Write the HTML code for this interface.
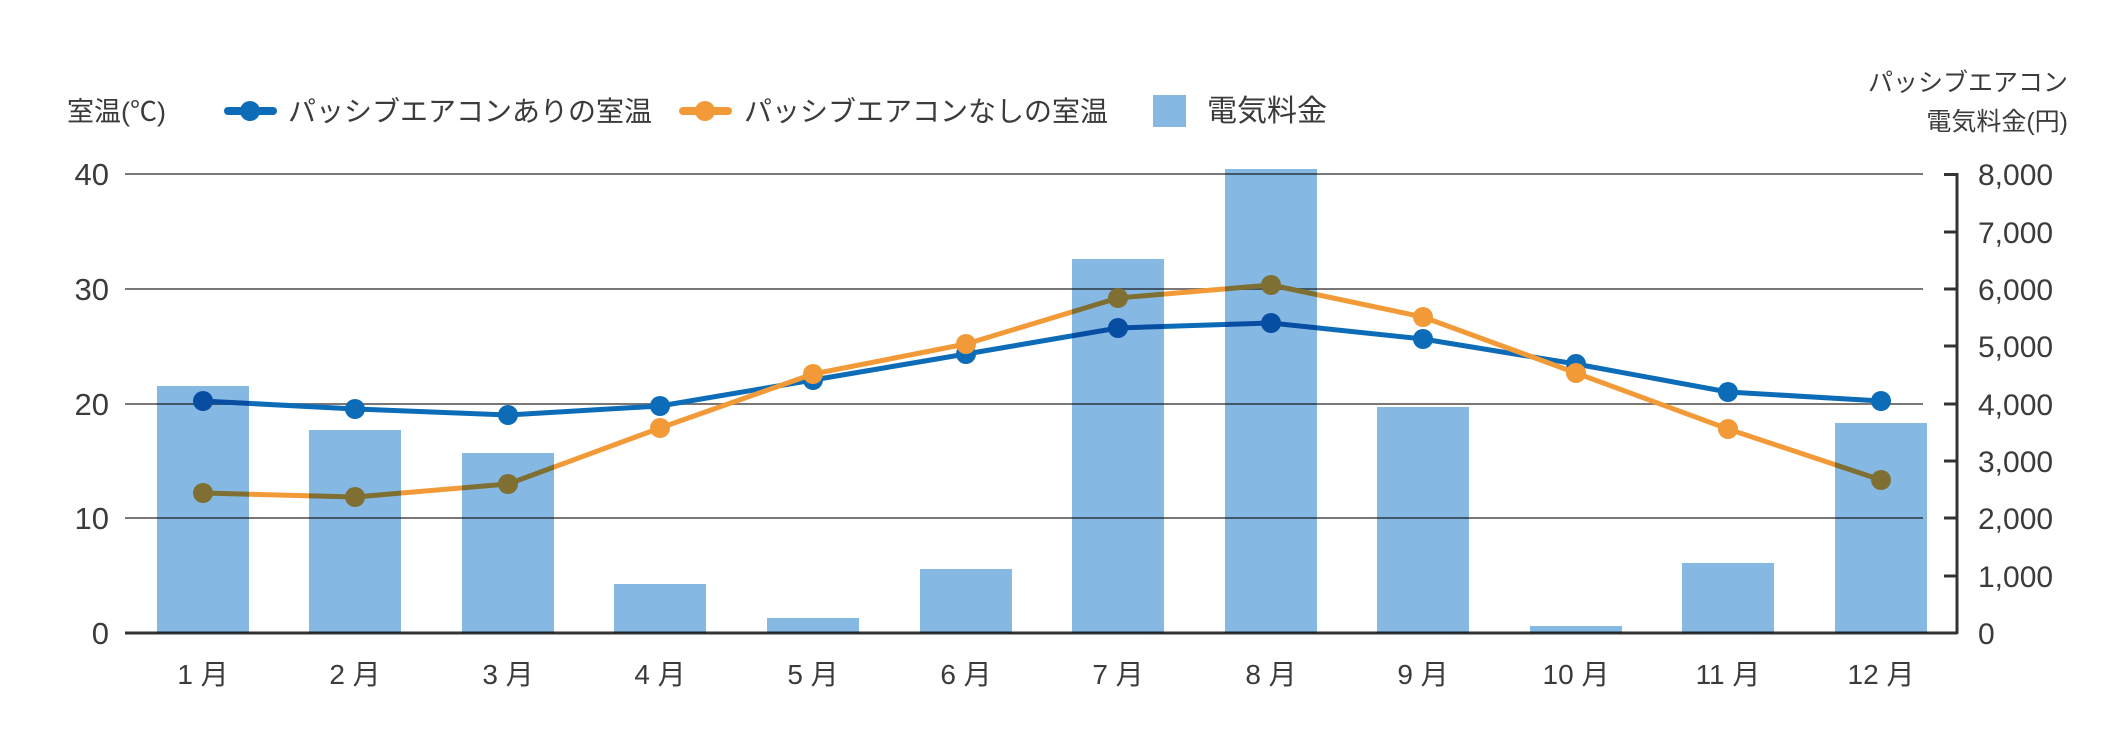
<!DOCTYPE html>
<html><head><meta charset="utf-8"><style>
html,body{margin:0;padding:0;background:#fff;}
svg{display:block;}
text{font-family:"Liberation Sans","Noto Sans CJK JP",sans-serif;fill:#3d3a3a;}
</style></head><body>
<svg width="2125" height="751" viewBox="0 0 2125 751" xmlns="http://www.w3.org/2000/svg">
<text x="67" y="121" font-size="27">室温(℃)</text>
<line x1="228" y1="111" x2="273" y2="111" stroke="#0d6cb7" stroke-width="8" stroke-linecap="round"/>
<circle cx="250" cy="111" r="10" fill="#0d6cb7"/>
<text x="288" y="121" font-size="28">パッシブエアコンありの室温</text>
<line x1="683" y1="111" x2="728" y2="111" stroke="#f39a38" stroke-width="8" stroke-linecap="round"/>
<circle cx="705" cy="111" r="10" fill="#f39a38"/>
<text x="744" y="121" font-size="28">パッシブエアコンなしの室温</text>
<rect x="1153" y="95" width="33" height="32" fill="#85b8e3"/>
<text x="1207" y="121" font-size="30">電気料金</text>
<text x="2068" y="91" font-size="25" text-anchor="end">パッシブエアコン</text>
<text x="2068" y="130" font-size="25" text-anchor="end">電気料金(円)</text>
<g stroke="#7a7776" stroke-width="2">
<line x1="125" y1="174" x2="1923" y2="174"/>
<line x1="125" y1="289" x2="1923" y2="289"/>
<line x1="125" y1="404" x2="1923" y2="404"/>
<line x1="125" y1="518" x2="1923" y2="518"/>
</g>
<line x1="125" y1="633" x2="1957" y2="633" stroke="#333" stroke-width="3"/>
<line x1="1957" y1="173" x2="1957" y2="634" stroke="#333" stroke-width="3"/>
<g stroke="#333" stroke-width="3">
<line x1="1944" y1="174.5" x2="1957" y2="174.5"/>
<line x1="1944" y1="232" x2="1957" y2="232"/>
<line x1="1944" y1="289" x2="1957" y2="289"/>
<line x1="1944" y1="346" x2="1957" y2="346"/>
<line x1="1944" y1="404" x2="1957" y2="404"/>
<line x1="1944" y1="461" x2="1957" y2="461"/>
<line x1="1944" y1="518" x2="1957" y2="518"/>
<line x1="1944" y1="576" x2="1957" y2="576"/>
</g>
<g font-size="31" text-anchor="end">
<text x="109" y="185">40</text>
<text x="109" y="300">30</text>
<text x="109" y="415">20</text>
<text x="109" y="529">10</text>
<text x="109" y="644">0</text>
</g>
<g font-size="30">
<text x="1978" y="185">8,000</text>
<text x="1978" y="243">7,000</text>
<text x="1978" y="300">6,000</text>
<text x="1978" y="357">5,000</text>
<text x="1978" y="415">4,000</text>
<text x="1978" y="472">3,000</text>
<text x="1978" y="529">2,000</text>
<text x="1978" y="587">1,000</text>
<text x="1978" y="644">0</text>
</g>
<g font-size="28" text-anchor="middle">
<text x="203" y="684">1 月</text>
<text x="355" y="684">2 月</text>
<text x="508" y="684">3 月</text>
<text x="660" y="684">4 月</text>
<text x="813" y="684">5 月</text>
<text x="966" y="684">6 月</text>
<text x="1118" y="684">7 月</text>
<text x="1271" y="684">8 月</text>
<text x="1423" y="684">9 月</text>
<text x="1576" y="684">10 月</text>
<text x="1728" y="684">11 月</text>
<text x="1881" y="684">12 月</text>
</g>
<polyline fill="none" stroke="#0d6cb7" stroke-width="5" stroke-linejoin="round"
points="203,401 355,409 508,415 660,406 813,380 966,354 1118,328 1271,323 1423,339 1576,364 1728,392 1881,401"/>
<g fill="#0d6cb7">
<circle cx="203" cy="401" r="10"/><circle cx="355" cy="409" r="10"/><circle cx="508" cy="415" r="10"/><circle cx="660" cy="406" r="10"/><circle cx="813" cy="380" r="10"/><circle cx="966" cy="354" r="10"/><circle cx="1118" cy="328" r="10"/><circle cx="1271" cy="323" r="10"/><circle cx="1423" cy="339" r="10"/><circle cx="1576" cy="364" r="10"/><circle cx="1728" cy="392" r="10"/><circle cx="1881" cy="401" r="10"/>
</g>
<polyline fill="none" stroke="#f39a38" stroke-width="5" stroke-linejoin="round"
points="203,493 355,497 508,484 660,428 813,374 966,344 1118,298 1271,285 1423,317 1576,373 1728,429 1881,480"/>
<g fill="#f39a38">
<circle cx="203" cy="493" r="10"/><circle cx="355" cy="497" r="10"/><circle cx="508" cy="484" r="10"/><circle cx="660" cy="428" r="10"/><circle cx="813" cy="374" r="10"/><circle cx="966" cy="344" r="10"/><circle cx="1118" cy="298" r="10"/><circle cx="1271" cy="285" r="10"/><circle cx="1423" cy="317" r="10"/><circle cx="1576" cy="373" r="10"/><circle cx="1728" cy="429" r="10"/><circle cx="1881" cy="480" r="10"/>
</g>
<g fill="#85b8e3" style="mix-blend-mode:multiply">
<rect x="157" y="386" width="92" height="247"/>
<rect x="309" y="430" width="92" height="203"/>
<rect x="462" y="453" width="92" height="180"/>
<rect x="614" y="584" width="92" height="49"/>
<rect x="767" y="618" width="92" height="15"/>
<rect x="920" y="569" width="92" height="64"/>
<rect x="1072" y="259" width="92" height="374"/>
<rect x="1225" y="169" width="92" height="464"/>
<rect x="1377" y="407" width="92" height="226"/>
<rect x="1530" y="626" width="92" height="7"/>
<rect x="1682" y="563" width="92" height="70"/>
<rect x="1835" y="423" width="92" height="210"/>
</g>
</svg>
</body></html>
